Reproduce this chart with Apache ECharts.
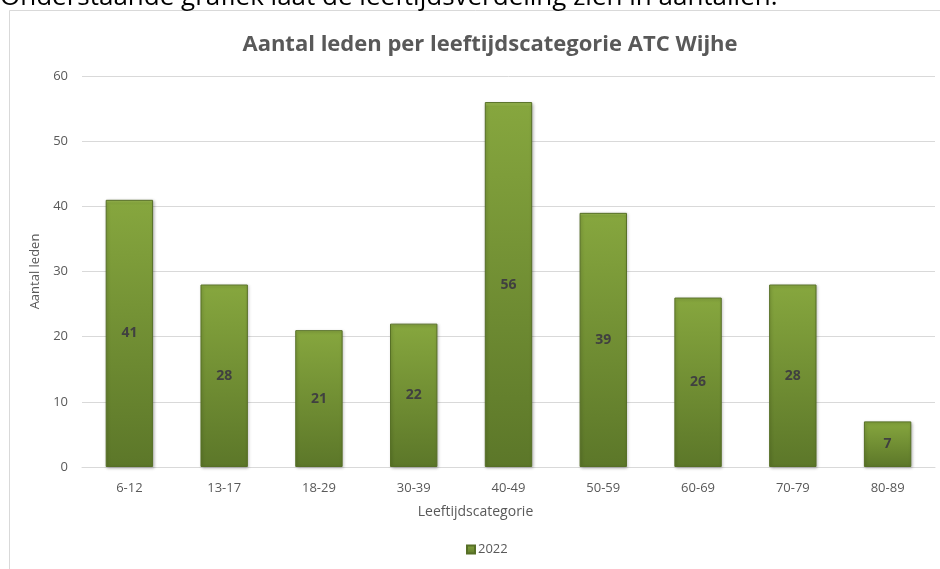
<!DOCTYPE html>
<html>
<head>
<meta charset="utf-8">
<script src="https://cdn.jsdelivr.net/npm/echarts@6/dist/echarts.min.js"></script>
<style>
html,body{margin:0;padding:0;background:#fff;}
#c{width:940px;height:569px;}
</style>
</head>
<body>
<div id="c"></div>
<script>
const categories = ['6-12','13-17','18-29','30-39','40-49','50-59','60-69','70-79','80-89'];
const values2022 = [41, 28, 21, 22, 56, 39, 26, 28, 7];
const yTicks = {min: 0, max: 60, interval: 10};

const chart = echarts.init(document.getElementById('c'), null, {renderer: 'canvas'});
const font = '"Open Sans", "Noto Sans", sans-serif';
chart.setOption({
  animation: false,
  backgroundColor: '#fff',
  graphic: [
    {type: 'rect', shape: {x: 9.5, y: 10.5, width: 940, height: 570}, style: {fill: 'none', stroke: '#d9d9d9', lineWidth: 1}, z: -1},
    {type: 'text', left: 0, top: -15, style: {text: 'Onderstaande grafiek laat de leeftijdsverdeling zien in aantallen.', font: '26px ' + font, fill: '#000'}}
  ],
  title: {
    text: 'Aantal leden per leeftijdscategorie ATC Wijhe',
    left: 485, top: 29, textAlign: 'center',
    textStyle: {fontFamily: font, fontSize: 22, fontWeight: 'bold', color: '#595959'}
  },
  legend: {
    bottom: 8, left: 461,
    itemWidth: 8, itemHeight: 8, itemGap: 4,
    icon: 'rect',
    textStyle: {fontFamily: font, fontSize: 13, color: '#595959', padding: [0,0,0,-2]},
    data: ['2022']
  },
  grid: {left: 82, right: 5, top: 76, bottom: 102},
  xAxis: {
    type: 'category', data: categories,
    name: 'Leeftijdscategorie', nameLocation: 'middle', nameGap: 38,
    nameTextStyle: {fontFamily: font, fontSize: 14, color: '#595959', padding: [0, 66, 0, 0]},
    axisLine: {lineStyle: {color: '#d9d9d9'}},
    axisTick: {show: false},
    axisLabel: {fontFamily: font, fontSize: 13, color: '#595959', margin: 15}
  },
  yAxis: {
    type: 'value', min: yTicks.min, max: yTicks.max, interval: yTicks.interval,
    name: 'Aantal leden', nameLocation: 'middle', nameGap: 27, nameRotate: 90,
    nameTextStyle: {fontFamily: font, fontSize: 13, color: '#595959'},
    axisLine: {show: false}, axisTick: {show: false},
    axisLabel: {fontFamily: font, fontSize: 13, color: '#595959', margin: 14},
    splitLine: {lineStyle: {color: '#d9d9d9'}}
  },
  series: [{
    name: '2022', type: 'bar', data: values2022, barWidth: '50%',
    itemStyle: {
      color: new echarts.graphic.LinearGradient(0, 0, 0, 1, [
        {offset: 0, color: '#a6c65a'},
        {offset: 0.012, color: '#86a63e'},
        {offset: 1, color: '#5c7729'}
      ]),
      borderColor: '#566f26', borderWidth: 1,
      shadowColor: 'rgba(0,0,0,0.25)', shadowBlur: 3, shadowOffsetX: 1, shadowOffsetY: 1
    },
    label: {show: true, position: 'inside', fontFamily: font, fontSize: 14, fontWeight: 'bold', color: '#404040'}
  }]
});
</script>
</body>
</html>
